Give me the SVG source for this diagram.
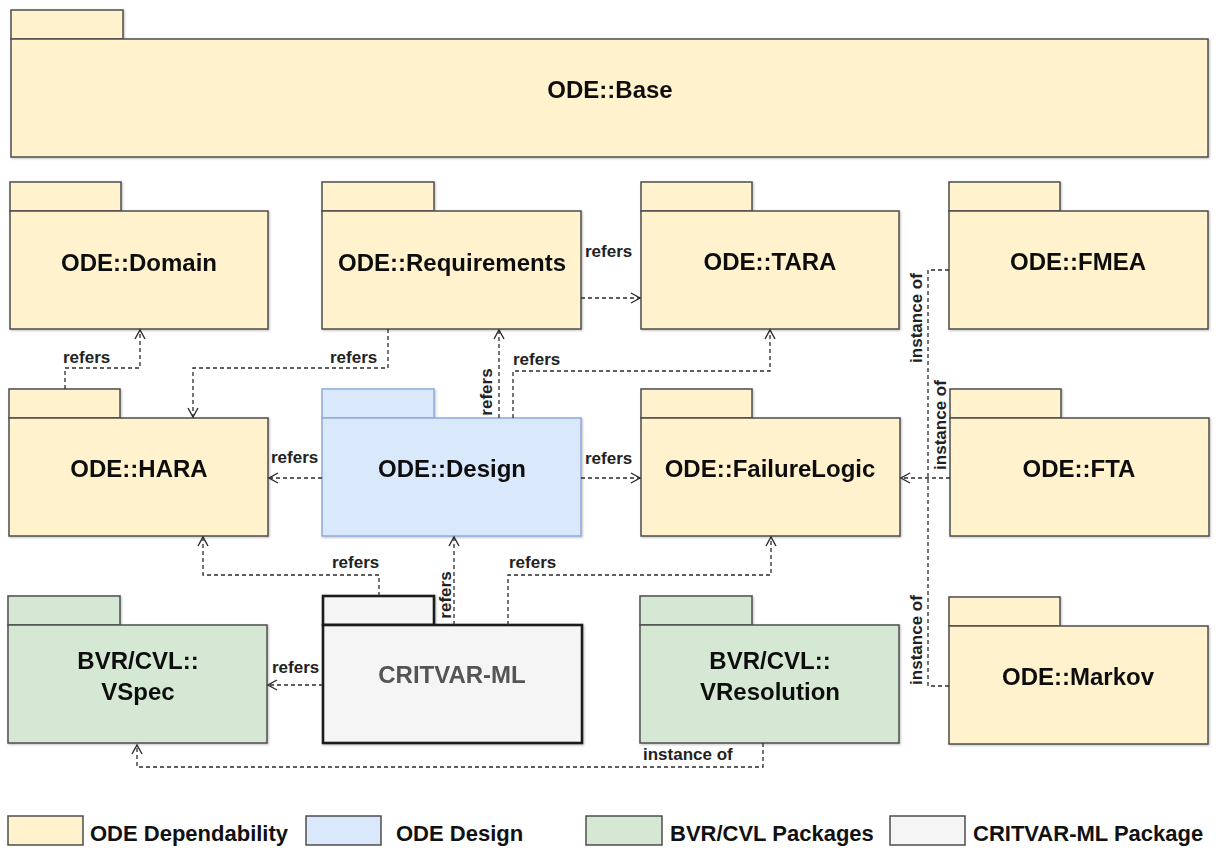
<svg xmlns="http://www.w3.org/2000/svg" width="1216" height="848" viewBox="0 0 1216 848">
  <style>
    .pkg rect { stroke: #4d4d4d; stroke-width: 1.5; }
    .dep rect { fill: #fff2cc; }
    .des rect { fill: #dae8fc; stroke: #8eaadb; }
    .bvr rect { fill: #d5e8d4; }
    .crit rect { fill: #f5f5f5; stroke: #1a1a1a; stroke-width: 2.6; }
    .name { font-family: "Liberation Sans", Arial, sans-serif; font-size: 24px; font-weight: bold; fill: #111; text-anchor: middle; }
    .crit .name { fill: #555; }
    .edge { fill: none; stroke: #2b2b2b; stroke-width: 1.3; stroke-dasharray: 4 3; }
    .lbl { font-family: "Liberation Sans", Arial, sans-serif; font-size: 17px; font-weight: bold; fill: #222; }
    .legend rect { stroke: #4d4d4d; stroke-width: 1.5; }
    .legend text { font-family: "Liberation Sans", Arial, sans-serif; font-size: 22px; font-weight: bold; fill: #111; }
  </style>
  <defs>
    <marker id="open" markerUnits="userSpaceOnUse" markerWidth="14" markerHeight="14" viewBox="0 0 14 14" refX="12" refY="7" orient="auto">
      <path d="M3,2 L12,7 L3,12" fill="none" stroke="#2b2b2b" stroke-width="1.4"/>
    </marker>
    <filter id="shadow" x="-5%" y="-5%" width="110%" height="115%">
      <feDropShadow dx="1" dy="1" stdDeviation="0.8" flood-color="#000" flood-opacity="0.25"/>
    </filter>
  </defs>

  <rect width="1216" height="848" fill="#ffffff"/>

  <!-- packages -->
  <g id="base" class="pkg dep" filter="url(#shadow)">
    <rect x="11" y="10" width="112" height="29"/>
    <rect x="11" y="39" width="1197" height="118"/>
    <text class="name" x="610" y="98">ODE::Base</text>
  </g>

  <g id="domain" class="pkg dep" filter="url(#shadow)">
    <rect x="10" y="182" width="111" height="29"/>
    <rect x="10" y="211" width="258" height="118"/>
    <text class="name" x="139" y="271">ODE::Domain</text>
  </g>

  <g id="requirements" class="pkg dep" filter="url(#shadow)">
    <rect x="322" y="182" width="112" height="29"/>
    <rect x="322" y="211" width="259" height="118"/>
    <text class="name" x="452" y="271">ODE::Requirements</text>
  </g>

  <g id="tara" class="pkg dep" filter="url(#shadow)">
    <rect x="641" y="182" width="111" height="29"/>
    <rect x="641" y="211" width="258" height="118"/>
    <text class="name" x="770" y="270">ODE::TARA</text>
  </g>

  <g id="fmea" class="pkg dep" filter="url(#shadow)">
    <rect x="949" y="182" width="111" height="29"/>
    <rect x="949" y="211" width="259" height="118"/>
    <text class="name" x="1078" y="270">ODE::FMEA</text>
  </g>

  <g id="hara" class="pkg dep" filter="url(#shadow)">
    <rect x="9" y="389" width="111" height="29"/>
    <rect x="9" y="418" width="259" height="118"/>
    <text class="name" x="139" y="477">ODE::HARA</text>
  </g>

  <g id="design" class="pkg des" filter="url(#shadow)">
    <rect x="322" y="389" width="112" height="29"/>
    <rect x="322" y="418" width="259" height="118"/>
    <text class="name" x="452" y="477">ODE::Design</text>
  </g>

  <g id="failurelogic" class="pkg dep" filter="url(#shadow)">
    <rect x="641" y="389" width="111" height="29"/>
    <rect x="641" y="418" width="259" height="118"/>
    <text class="name" x="770" y="477">ODE::FailureLogic</text>
  </g>

  <g id="fta" class="pkg dep" filter="url(#shadow)">
    <rect x="950" y="389" width="111" height="29"/>
    <rect x="950" y="418" width="259" height="118"/>
    <text class="name" x="1079" y="477">ODE::FTA</text>
  </g>

  <g id="vspec" class="pkg bvr" filter="url(#shadow)">
    <rect x="8" y="596" width="112" height="29"/>
    <rect x="8" y="625" width="259" height="118"/>
    <text class="name" x="138" y="669">BVR/CVL::</text>
    <text class="name" x="138" y="700">VSpec</text>
  </g>

  <g id="critvar" class="pkg crit" filter="url(#shadow)">
    <rect x="323" y="596" width="111" height="29"/>
    <rect x="323" y="625" width="259" height="118"/>
    <text class="name" x="452" y="683">CRITVAR-ML</text>
  </g>

  <g id="vresolution" class="pkg bvr" filter="url(#shadow)">
    <rect x="640" y="596" width="112" height="29"/>
    <rect x="640" y="625" width="259" height="118"/>
    <text class="name" x="770" y="669">BVR/CVL::</text>
    <text class="name" x="770" y="700">VResolution</text>
  </g>

  <g id="markov" class="pkg dep" filter="url(#shadow)">
    <rect x="949" y="597" width="111" height="29"/>
    <rect x="949" y="626" width="259" height="118"/>
    <text class="name" x="1078" y="685">ODE::Markov</text>
  </g>

  <!-- dependencies -->
  <g id="connectors">
    <!-- Requirements -> TARA -->
    <path class="edge" d="M581,298 H640" marker-end="url(#open)"/>
    <text class="lbl" x="585" y="257">refers</text>

    <!-- HARA -> Domain -->
    <path class="edge" d="M65,389 V368 H140 V330" marker-end="url(#open)"/>
    <text class="lbl" x="63" y="363">refers</text>

    <!-- Requirements -> HARA -->
    <path class="edge" d="M388,329 V368 H193 V417" marker-end="url(#open)"/>
    <text class="lbl" x="330" y="363">refers</text>

    <!-- Design -> HARA -->
    <path class="edge" d="M322,478 H269" marker-end="url(#open)"/>
    <text class="lbl" x="271" y="463">refers</text>

    <!-- Design -> Requirements -->
    <path class="edge" d="M499,418 V330" marker-end="url(#open)"/>
    <text class="lbl" text-anchor="middle" transform="translate(492,392) rotate(-90)">refers</text>

    <!-- Design -> TARA -->
    <path class="edge" d="M513,418 V371 H770 V330" marker-end="url(#open)"/>
    <text class="lbl" x="513" y="365">refers</text>

    <!-- Design -> FailureLogic -->
    <path class="edge" d="M581,478 H640" marker-end="url(#open)"/>
    <text class="lbl" x="585" y="464">refers</text>

    <!-- FTA -> FailureLogic -->
    <path class="edge" d="M950,478 H901" marker-end="url(#open)"/>
    <text class="lbl" text-anchor="middle" transform="translate(946,425) rotate(-90)">instance of</text>

    <!-- FMEA -> FailureLogic -->
    <path class="edge" d="M949,270 H928 V478"/>
    <text class="lbl" text-anchor="middle" transform="translate(922,318) rotate(-90)">instance of</text>

    <!-- Markov -> FailureLogic -->
    <path class="edge" d="M949,686 H928 V478"/>
    <text class="lbl" text-anchor="middle" transform="translate(922,640) rotate(-90)">instance of</text>

    <!-- CRITVAR-ML -> HARA -->
    <path class="edge" d="M379,596 V575 H203 V537" marker-end="url(#open)"/>
    <text class="lbl" x="332" y="568">refers</text>

    <!-- CRITVAR-ML -> Design -->
    <path class="edge" d="M454,625 V537" marker-end="url(#open)"/>
    <text class="lbl" text-anchor="middle" transform="translate(451,595) rotate(-90)">refers</text>

    <!-- CRITVAR-ML -> FailureLogic -->
    <path class="edge" d="M508,625 V575 H771 V537" marker-end="url(#open)"/>
    <text class="lbl" x="509" y="568">refers</text>

    <!-- CRITVAR-ML -> VSpec -->
    <path class="edge" d="M323,685 H268" marker-end="url(#open)"/>
    <text class="lbl" x="272" y="673">refers</text>

    <!-- VResolution -> VSpec -->
    <path class="edge" d="M763,743 V767 H137 V745" marker-end="url(#open)"/>
    <text class="lbl" x="643" y="760">instance of</text>
  </g>

  <!-- key -->
  <g id="legend" class="legend">
    <rect x="8" y="816" width="75" height="29" fill="#fff2cc"/>
    <text x="90" y="841">ODE Dependability</text>
    <rect x="306" y="816" width="75" height="29" fill="#dae8fc"/>
    <text x="396" y="841">ODE Design</text>
    <rect x="586" y="816" width="76" height="29" fill="#d5e8d4"/>
    <text x="670" y="841">BVR/CVL Packages</text>
    <rect x="890" y="816" width="75" height="29" fill="#f5f5f5"/>
    <text x="973" y="841">CRITVAR-ML Package</text>
  </g>
</svg>
